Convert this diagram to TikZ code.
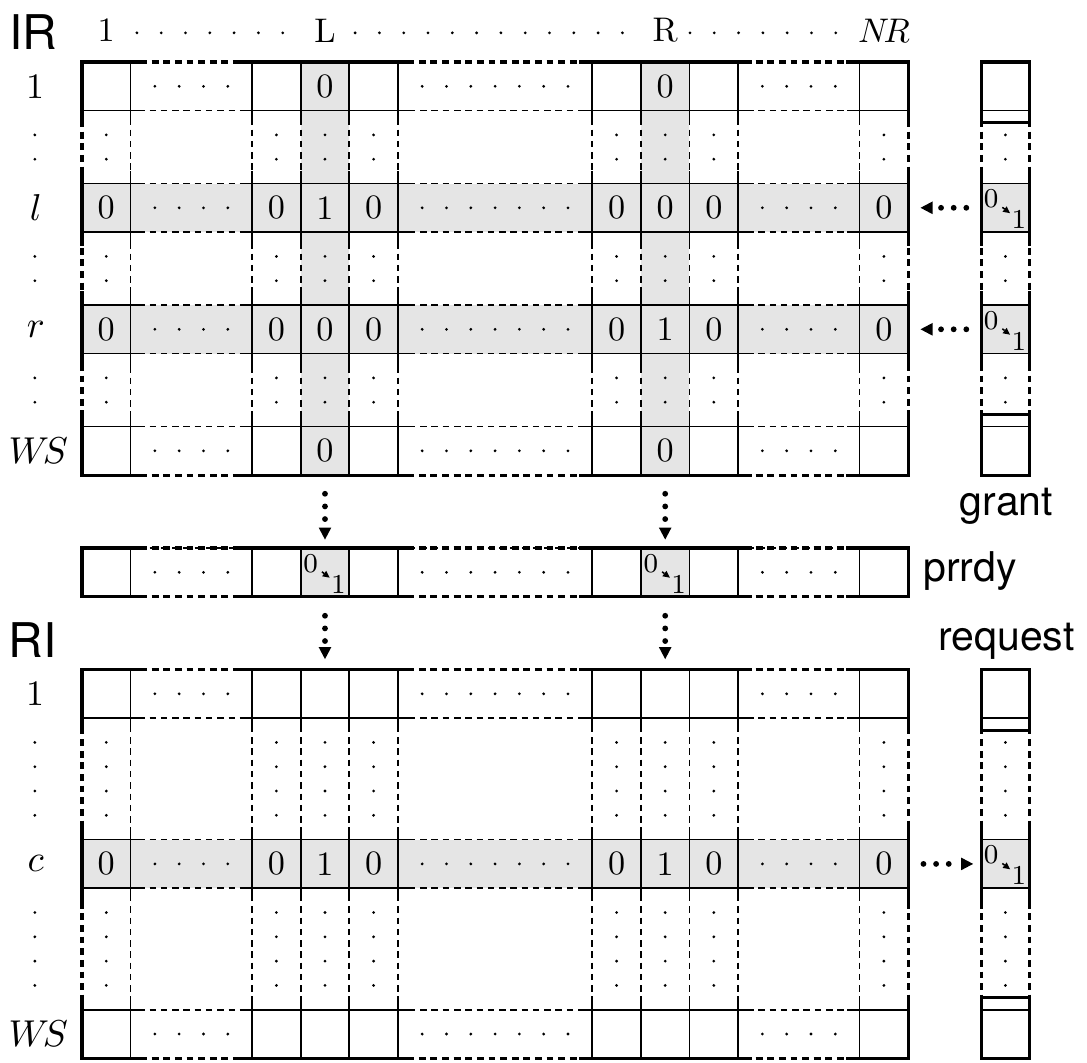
\documentclass[tikz,border=0pt]{standalone}
\usepackage{fontspec}
\newfontfamily\lblfont{TeX Gyre Heros}
\usetikzlibrary{arrows.meta}
\definecolor{shadegray}{gray}{0.9}
\newcommand\mydot[2]{\fill (#1,#2) circle (0.45pt);}
\newcommand\mainblock[4]{%
  \foreach \y in {#3}{%
    \draw[dashthin] (0,\y) -- (17,\y);
    \foreach \a/\b in {0/1.25,3.25/6.75,10.25/13.75,15.75/17}
      {\draw[thinl] (\a,\y) -- (\b,\y);}
  }
  \foreach \x in {1,3.5,4.5,5.5,6.5,10.5,11.5,12.5,13.5,16}{%
    \draw[dashthin] (\x,#1) -- (\x,#2);
    \foreach \a/\b in {#4}
      {\draw[thinl] (\x,\a) -- (\x,\b);}
  }
  \foreach \x in {0,17}{%
    \draw[dashthick] (\x,#1) -- (\x,#2);
    \foreach \a/\b in {#4}
      {\draw[thickl] (\x,\a) -- (\x,\b);}
  }
  \foreach \y in {#1,#2}{%
    \draw[dashthick] (0,\y) -- (17,\y);
    \foreach \a/\b in {0/1.25,3.25/6.75,10.25/13.75,15.75/17}
      {\draw[thickl] (\a,\y) -- (\b,\y);}
  }
}
\newcommand\sideblock[5]{%
  \foreach \y in {#3} {\draw[thinl] (18.5,\y) -- (19.5,\y);}
  \foreach \y in {#5} {\draw[thickl] (18.5,\y) -- (19.5,\y);}
  \foreach \x in {18.5,19.5}{%
    \draw[dashthick] (\x,#1) -- (\x,#2);
    \foreach \a/\b in {#4}
      {\draw[thickl] (\x,\a) -- (\x,\b);}
  }
  \draw[thickl] (18.5,#1) -- (19.5,#1);
  \draw[thickl] (18.5,#2) -- (19.5,#2);
}
\newcommand\flipcell[2]{%
  \node[cell] (#1) at (#2) {};
  \node[flipd] (#1z) at ([shift={(0.22,-0.33)}]#1.north west) {0};
  \node[flipd] (#1o) at ([shift={(0.79,-0.76)}]#1.north west) {1};
  \draw[smallarr, shorten <=1.2pt, shorten >=0.3pt] (#1z) -- (#1o);
}
\begin{document}
\begin{tikzpicture}[x=0.5cm,y=0.5cm,
  thinl/.style={line width=0.5pt},
  thickl/.style={line width=0.9pt, line cap=rect},
  dashthin/.style={line width=0.5pt, dash pattern=on 1.9pt off 1.4pt},
  dashthick/.style={line width=0.9pt, dash pattern=on 2pt off 1.4pt},
  cell/.style={minimum size=0.5cm, inner sep=0pt, font=\fontsize{10}{12}\selectfont},
  flipd/.style={inner sep=0pt, font=\fontsize{8}{9.6}\selectfont},
  smallarr/.style={line width=0.45pt, -{Triangle[length=2pt,width=2pt,line width=0pt]}},
  dotarrow/.style={line width=1.7pt, line cap=round, dash pattern=on 0pt off 3.7pt,
    -{Triangle[length=3.5pt,width=3.7pt,line width=0pt]}},
  rowlbl/.style={inner sep=0pt, font=\fontsize{10.5}{12}\selectfont},
  hdlbl/.style={inner sep=0pt, font=\fontsize{10}{12}\selectfont},
  lbl/.style={font=\lblfont\fontsize{12}{14}\selectfont, inner sep=0pt},
  biglbl/.style={font=\lblfont\fontsize{14}{17}\selectfont, inner sep=0pt},
]
\useasboundingbox (-1.687,1.276) rectangle (20.679,-20.576);

% ---------- shading ----------
\fill[shadegray] (0,-2.5) rectangle (17,-3.5);
\fill[shadegray] (0,-5) rectangle (17,-6);
\fill[shadegray] (4.5,0) rectangle (5.5,-8.5);
\fill[shadegray] (11.5,0) rectangle (12.5,-8.5);
\fill[shadegray] (18.5,-2.5) rectangle (19.5,-3.5);
\fill[shadegray] (18.5,-5) rectangle (19.5,-6);
\fill[shadegray] (4.5,-10) rectangle (5.5,-11);
\fill[shadegray] (11.5,-10) rectangle (12.5,-11);
\fill[shadegray] (0,-16) rectangle (17,-17);
\fill[shadegray] (18.5,-16) rectangle (19.5,-17);

% ---------- grids ----------
\mainblock{0}{-8.5}{-1,-2.5,-3.5,-5,-6,-7.5}{0/-1.25,-2.25/-3.75,-4.75/-6.25,-7.25/-8.5}
\mainblock{-10}{-11}{-10}{-10/-11}
\mainblock{-12.5}{-20.5}{-13.5,-16,-17,-19.5}{-12.5/-13.75,-15.75/-17.25,-19.25/-20.5}
\sideblock{0}{-8.5}{-1,-2.5,-3.5,-5,-6,-7.5}{0/-1.25,-2.25/-3.75,-4.75/-6.25,-7.25/-8.5}{-1.25,-7.25}
\sideblock{-12.5}{-20.5}{-13.5,-16,-17,-19.5}{-12.5/-13.75,-15.75/-17.25,-19.25/-20.5}{-13.75,-19.25}

% ---------- dots in horizontal gaps ----------
\foreach \y in {-0.5,-3,-5.5,-8,-10.5,-13,-16.5,-20}{
  \foreach \x in {1.5,2,2.5,3,7,7.5,8,8.5,9,9.5,10,14,14.5,15,15.5}
    {\mydot{\x}{\y}}
}
% ---------- dots in vertical gaps ----------
\foreach \y in {-1.5,-2,-4,-4.5,-6.5,-7,-14,-14.5,-15,-15.5,-17.5,-18,-18.5,-19}{
  \foreach \x in {-0.97,0.5,4,5,6,11,12,13,16.5,19}
    {\mydot{\x}{\y}}
}
% ---------- header ----------
\node[hdlbl] (h1) at (0.5,0.65) {1};
\node[hdlbl] (hL) at (5,0.65) {L};
\node[hdlbl] (hR) at (12,0.65) {R};
\node[hdlbl] (hN) at (16.5,0.65) {$N\!R$};
\foreach \k in {0,...,6} {\mydot{1.13+0.5*\k}{0.6}}
\foreach \k in {0,...,11} {\mydot{5.62+0.5*\k}{0.6}}
\foreach \k in {0,...,6} {\mydot{12.51+0.5*\k}{0.6}}

% ---------- row labels ----------
\node[rowlbl] (rl1) at (-0.95,-0.5) {1};
\node[rowlbl] (rll) at (-0.95,-3) {$l$};
\node[rowlbl] (rlr) at (-0.95,-5.5) {$r$};
\node[rowlbl] (rlws) at (-0.9,-8) {$W\!S$};
\node[rowlbl] (rl1b) at (-0.95,-13) {1};
\node[rowlbl] (rlc) at (-0.95,-16.5) {$c$};
\node[rowlbl] (rlwsb) at (-0.9,-20) {$W\!S$};

% ---------- big labels ----------
\node[biglbl] (IRlbl) at (-1.0,0.62) {IR};
\node[biglbl] (RIlbl) at (-1.02,-11.9) {RI};
\node[lbl] (grant) at (19.02,-9.14) {grant};
\node[lbl, anchor=west] (prrdy) at (17.3,-10.48) {prrdy};
\node[lbl] (request) at (19.02,-11.91) {request};

% ---------- IR cell values ----------
\node[cell] (IR1L) at (5,-0.5) {0};
\node[cell] (IR1R) at (12,-0.5) {0};
\node[cell] (IRwsL) at (5,-8) {0};
\node[cell] (IRwsR) at (12,-8) {0};
\foreach \x/\n/\v in {0.5/a/0,4/b/0,5/c/1,6/d/0,11/e/0,12/f/0,13/g/0,16.5/h/0}
  {\node[cell] (IRl\n) at (\x,-3) {\v};}
\foreach \x/\n/\v in {0.5/a/0,4/b/0,5/c/0,6/d/0,11/e/0,12/f/1,13/g/0,16.5/h/0}
  {\node[cell] (IRr\n) at (\x,-5.5) {\v};}
% ---------- RI cell values ----------
\node[cell] (RI1L) at (5,-13) {};
\node[cell] (RI1R) at (12,-13) {};
\foreach \x/\n/\v in {0.5/a/0,4/b/0,5/c/1,6/d/0,11/e/0,12/f/1,13/g/0,16.5/h/0}
  {\node[cell] (RIc\n) at (\x,-16.5) {\v};}

% ---------- flip cells ----------
\flipcell{prL}{5,-10.5}
\flipcell{prR}{12,-10.5}
\flipcell{gl}{19,-3}
\flipcell{gr}{19,-5.5}
\flipcell{qc}{19,-16.5}

% ---------- connectors ----------
\draw[dotarrow, shorten <=0.185cm, shorten >=0.08cm] (IRwsL) -- (prL);
\draw[dotarrow, shorten <=0.185cm, shorten >=0.08cm] (IRwsR) -- (prR);
\draw[dotarrow, shorten <=0.19cm, shorten >=0.1cm] (prL) -- (RI1L);
\draw[dotarrow, shorten <=0.19cm, shorten >=0.1cm] (prR) -- (RI1R);
\draw[dotarrow, shorten <=0.145cm, shorten >=0.12cm] (gl) -- (IRlh);
\draw[dotarrow, shorten <=0.145cm, shorten >=0.12cm] (gr) -- (IRrh);
\draw[dotarrow, shorten <=0.15cm, shorten >=0.075cm] (RIch) -- (qc);
\end{tikzpicture}
\end{document}
